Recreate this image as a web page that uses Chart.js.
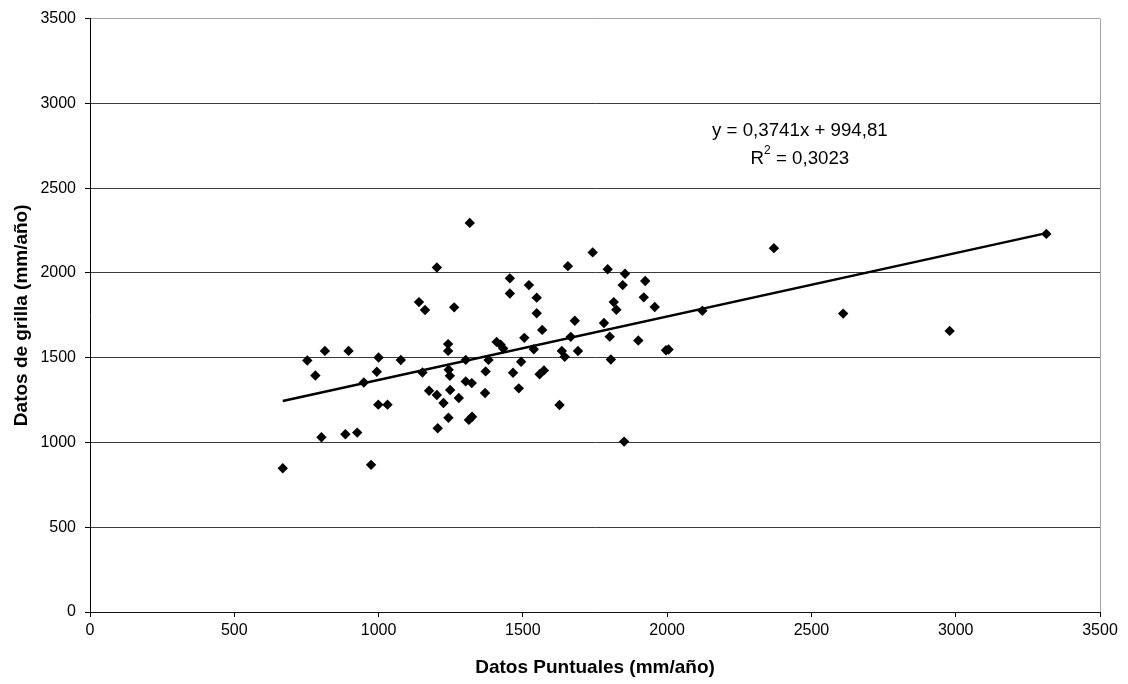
<!DOCTYPE html>
<html>
<head>
<meta charset="utf-8">
<title>Datos de grilla vs datos puntuales</title>
<script src="https://cdn.jsdelivr.net/npm/chart.js@4/dist/chart.umd.min.js"></script>
<style>
  html, body { margin: 0; padding: 0; background: #fff; }
  #wrap { width: 1128px; height: 684px; }
</style>
</head>
<body>
<div id="wrap"><canvas id="myChart" width="1128" height="684"></canvas></div>
<script>
// precipitation per station (x) against the gridded value at the same spot (y)
const puntuales = [
  1316, 1202, 1455, 1521, 1455, 1548, 1140, 1161, 1262, 1548,
  1241, 1241, 1409, 1423, 1432, 1505, 1538, 753, 814, 896,
  781, 1000, 1077, 994, 949, 1152, 1243, 1247, 1302, 1381,
  1371, 1494, 1466, 1558, 1175, 1202, 1225, 1248, 1278, 1302,
  1323, 1369, 1486, 999, 1031, 1242, 1313, 1324, 1205, 802,
  885, 926, 668, 974, 2370, 1742, 1656, 1794, 1854, 1846,
  1924, 1919, 1815, 1824, 1957, 2122, 1680, 1781, 1567, 1666,
  1801, 1900, 1635, 1645, 1691, 1996, 2005, 1805, 1573, 1627,
  1851, 2610, 2979, 3314
];
const grilla = [
  2295, 2032, 1968, 1928, 1879, 1854, 1828, 1781, 1797, 1762,
  1580, 1540, 1593, 1576, 1554, 1617, 1550, 1483, 1540, 1540,
  1395, 1501, 1486, 1417, 1354, 1413, 1429, 1393, 1487, 1487,
  1419, 1476, 1411, 1402, 1305, 1280, 1233, 1309, 1262, 1360,
  1350, 1292, 1319, 1223, 1223, 1146, 1133, 1152, 1084, 1031,
  1048, 1058, 848, 868, 2146, 2121, 2040, 2022, 1995, 1928,
  1952, 1856, 1828, 1783, 1799, 1777, 1718, 1705, 1664, 1623,
  1624, 1601, 1540, 1505, 1539, 1544, 1548, 1489, 1425, 1221,
  1005, 1760, 1658, 2230
];

// linear trend as reported next to the line
const slope = 0.3741;
const intercept = 994.81;
const r2Text = '0,3023';

const axisMax = 3500;
const axisStep = 500;
const xTitle = 'Datos Puntuales (mm/año)';
const yTitle = 'Datos de grilla (mm/año)';

const fontFamily = '"Liberation Sans", Arial, Helvetica, sans-serif';

const points = puntuales.map((v, i) => ({ x: v, y: grilla[i] }));
const xMin = Math.min(...puntuales);
const xMax = Math.max(...puntuales);
const trend = [xMin, xMax].map(v => ({ x: v, y: slope * v + intercept }));

const comma = n => String(n).replace('.', ',');
const eqText = 'y = ' + comma(slope) + 'x + ' + comma(intercept);

// equation + R² written above the trend line
const trendLabel = {
  id: 'trendLabel',
  afterDatasetsDraw(chart) {
    const { ctx, scales: { x, y } } = chart;
    const cx = x.getPixelForValue(2460);
    const y1 = y.getPixelForValue(2835);
    const y2 = y.getPixelForValue(2675);
    const big = '18.7px ' + fontFamily;
    const small = '12px ' + fontFamily;
    ctx.save();
    ctx.fillStyle = '#000';
    ctx.textBaseline = 'middle';
    ctx.textAlign = 'center';
    ctx.font = big;
    ctx.fillText(eqText, cx, y1);

    const rest = ' = ' + r2Text;
    const wR = ctx.measureText('R').width;
    const wRest = ctx.measureText(rest).width;
    ctx.font = small;
    const w2 = ctx.measureText('2').width;
    const left = cx - (wR + w2 + wRest) / 2;
    ctx.textAlign = 'left';
    ctx.font = big;
    ctx.fillText('R', left, y2);
    ctx.font = small;
    ctx.fillText('2', left + wR, y2 - 8);
    ctx.font = big;
    ctx.fillText(rest, left + wR + w2, y2);
    ctx.restore();
  }
};

const ctx = document.getElementById('myChart');
new Chart(ctx, {
  type: 'scatter',
  data: {
    datasets: [
      {
        type: 'line',
        label: 'Tendencia',
        data: trend,
        borderColor: '#000',
        borderWidth: 2.5,
        pointRadius: 0,
        fill: false,
        order: 0
      },
      {
        label: 'Estaciones',
        data: points,
        pointStyle: 'rectRot',
        pointRadius: 5.2,
        backgroundColor: '#000',
        borderColor: '#000',
        borderWidth: 0,
        order: 1
      }
    ]
  },
  options: {
    responsive: false,
    animation: false,
    devicePixelRatio: 1,
    layout: { padding: { left: 0, right: 28, top: 17, bottom: 0 } },
    plugins: {
      legend: { display: false },
      tooltip: { enabled: false }
    },
    scales: {
      x: {
        type: 'linear',
        min: 0,
        max: axisMax,
        afterFit: axis => { axis.height = 72; },
        ticks: {
          stepSize: axisStep,
          padding: 4,
          color: '#000',
          font: { family: fontFamily, size: 16 },
          callback: v => String(v)
        },
        grid: {
          // only the right frame edge is drawn, plus tick marks below
          color: c => (c.tick && c.tick.value === axisMax) ? '#a6a6a6' : 'rgba(0,0,0,0)',
          tickColor: '#000',
          tickLength: 5
        },
        border: { color: '#111', width: 1 },
        title: {
          display: true,
          text: xTitle,
          color: '#000',
          font: { family: fontFamily, size: 19, weight: 'bold' },
          padding: { top: 0, bottom: 5 }
        }
      },
      y: {
        type: 'linear',
        min: 0,
        max: axisMax,
        afterFit: axis => { axis.width = 90; },
        ticks: {
          stepSize: axisStep,
          padding: 9,
          color: '#000',
          font: { family: fontFamily, size: 16 },
          callback: v => String(v)
        },
        grid: {
          color: c => (c.tick && c.tick.value === axisMax) ? '#a6a6a6' : '#3a3a3a',
          tickColor: '#000',
          tickLength: 5
        },
        border: { color: '#000', width: 1 },
        title: {
          display: true,
          text: yTitle,
          color: '#000',
          font: { family: fontFamily, size: 19, weight: 'bold' },
          padding: { top: 10, bottom: 0 }
        }
      }
    }
  },
  plugins: [trendLabel]
});
</script>
</body>
</html>
